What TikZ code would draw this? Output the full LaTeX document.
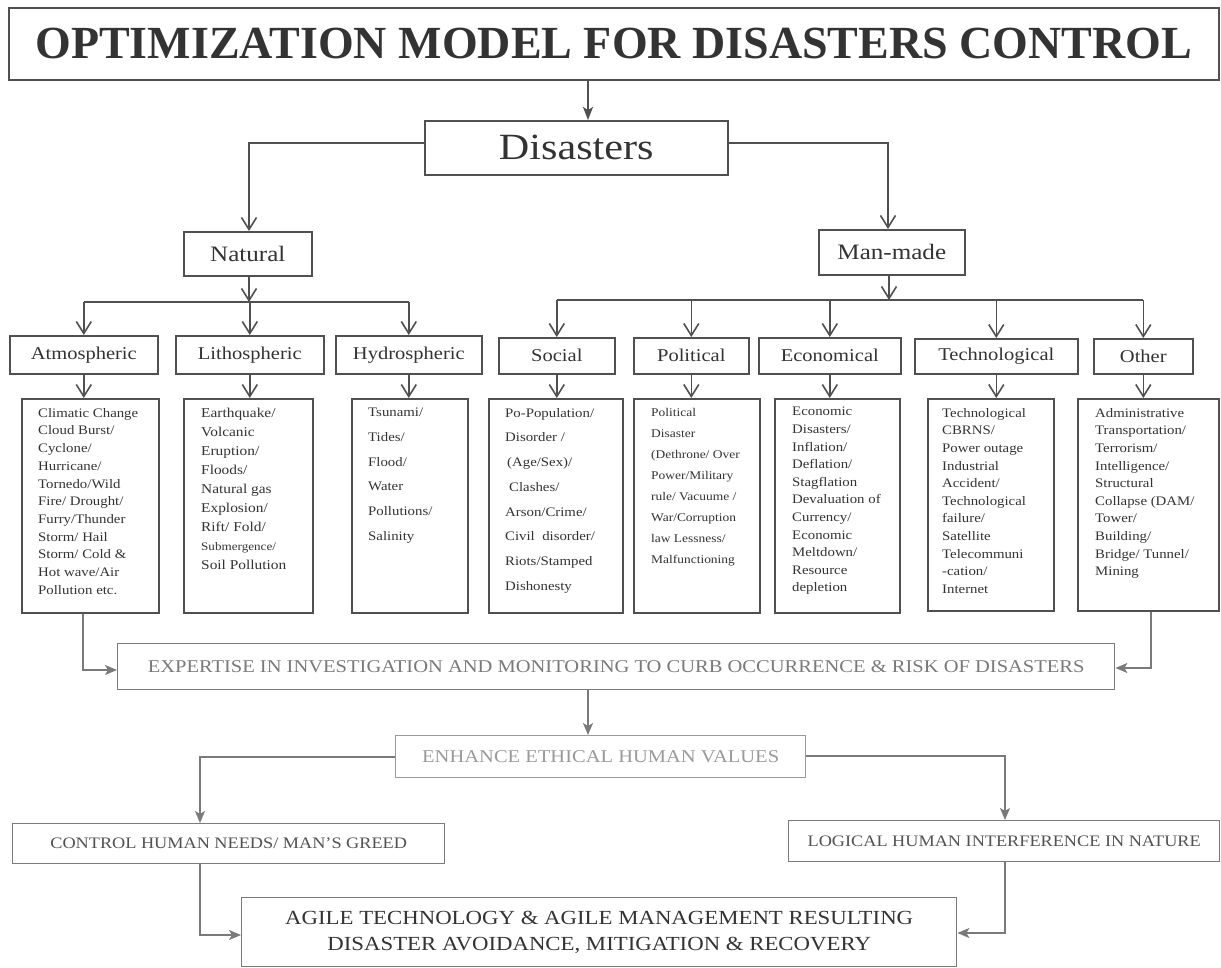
\documentclass[tikz,border=0pt]{standalone}
\usepackage{fontspec}
\setmainfont{Liberation Serif}[FakeStretch=1.14]
\newfontfamily\titlefont{Liberation Serif}
\usetikzlibrary{arrows.meta}
\definecolor{ink}{HTML}{333333}
\definecolor{linec}{HTML}{505050}
\definecolor{pale}{HTML}{7A7A7A}
\definecolor{paler}{HTML}{9A9A9A}
\tikzset{
  box/.style={draw=linec, line width=1.6pt, fill=white, inner sep=0pt, text=ink, anchor=north west},
  leafbox/.style={draw=linec, line width=1.6pt, inner sep=0pt, anchor=north west},
  leaftext/.style={inner sep=0pt, anchor=north west, align=left, text=ink},
  conn/.style={draw=linec, line width=1.6pt, -{Straight Barb[length=12pt,width=15pt]}},
  plain/.style={draw=linec, line width=1.6pt},
  sconn/.style={draw=pale, line width=1.5pt, -{Stealth[length=12pt,width=10pt,inset=3pt]}},
  splain/.style={draw=pale, line width=1.4pt},
  lvthree/.style={box, font=\fontsize{18}{20}\selectfont},
}
\begin{document}
\begin{tikzpicture}[x=1pt,y=-1pt]
\useasboundingbox (0,0) rectangle (1221,968);
\fill[white] (0,0) rectangle (1221,968);

% title
\node[box, minimum width=1210, minimum height=72, font=\titlefont\bfseries\fontsize{46}{50}\selectfont] (title) at (8,7) {OPTIMIZATION MODEL FOR DISASTERS CONTROL};
\node[box, minimum width=303, minimum height=54, font=\fontsize{37}{40}\selectfont] (dis) at (424,120) {Disasters};
\draw[draw=linec, line width=1.6pt, -{Stealth[length=13pt,width=10pt,inset=3pt]}] (title.south -| 588,0) -- (dis.north -| 588,0);

% level 2
\node[box, minimum width=128, minimum height=44, font=\fontsize{22}{24}\selectfont] (nat) at (183,231) {Natural};
\node[box, minimum width=146, minimum height=45, font=\fontsize{22}{24}\selectfont] (man) at (818,229) {Man-made};
\draw[conn] (dis.west |- 0,143) -- (249,143) -- (249,0 |- nat.north);
\draw[conn] (dis.east |- 0,143) -- (888,143) -- (888,0 |- man.north);

% level 3
\node[lvthree, minimum width=148, minimum height=38] (atm) at (9,335) {Atmospheric};
\node[lvthree, minimum width=148, minimum height=38] (lit) at (175,335) {Lithospheric};
\node[lvthree, minimum width=146, minimum height=38] (hyd) at (335,335) {Hydrospheric};
\node[lvthree, minimum width=116, minimum height=36] (soc) at (498,337) {Social};
\node[lvthree, minimum width=115, minimum height=36] (pol) at (633,337) {Political};
\node[lvthree, minimum width=142, minimum height=36] (eco) at (758,337) {Economical};
\node[lvthree, minimum width=163, minimum height=35] (tec) at (914,338) {Technological};
\node[lvthree, minimum width=99, minimum height=35] (oth) at (1093,338) {Other};

\coordinate (nbar) at (249,302);
\coordinate (mbar) at (889,300);
\draw[conn] (nat.south -| 249,0) -- (nbar);
\draw[plain] (atm.north |- nbar) -- (hyd.north |- nbar);
\foreach \n in {atm,lit,hyd} \draw[conn] (\n.north |- nbar) -- (\n.north);
\draw[conn] (man.south -| 889,0) -- (mbar);
\draw[plain] (soc.north |- mbar) -- (oth.north |- mbar);
\foreach \n in {soc,pol,eco,tec,oth} \draw[conn] (\n.north |- mbar) -- (\n.north);

% leaves
\node[leafbox, minimum width=137, minimum height=214] (latm) at (21,398) {};
\node[leafbox, minimum width=129, minimum height=214] (llit) at (183,398) {};
\node[leafbox, minimum width=116, minimum height=214] (lhyd) at (351,398) {};
\node[leafbox, minimum width=134, minimum height=214] (lsoc) at (488,398) {};
\node[leafbox, minimum width=126, minimum height=214] (lpol) at (633,398) {};
\node[leafbox, minimum width=125, minimum height=214] (leco) at (774,398) {};
\node[leafbox, minimum width=126, minimum height=212] (ltec) at (927,398) {};
\node[leafbox, minimum width=141, minimum height=212] (loth) at (1077,398) {};
\foreach \a/\b in {atm/latm,lit/llit,hyd/lhyd,soc/lsoc,pol/lpol,eco/leco,tec/ltec,oth/loth}
  \draw[conn] (\a.south) -- (\a.south |- \b.north);

\node[leaftext, font=\fontsize{13}{17.7}\selectfont] (tatm) at (38,408) {Climatic Change\\Cloud Burst/\\Cyclone/\\Hurricane/\\Tornedo/Wild\\Fire/ Drought/\\Furry/Thunder\\Storm/ Hail\\Storm/ Cold \&\\Hot wave/Air\\Pollution etc.};
\node[leaftext, font=\fontsize{13.5}{19}\selectfont] (tlit) at (201,408) {Earthquake/\\Volcanic\\Eruption/\\Floods/\\Natural gas\\Explosion/\\Rift/ Fold/\\{\fontsize{11.5}{19}\selectfont Submergence/}\\Soil Pollution};
\node[leaftext, font=\fontsize{13}{24.7}\selectfont] (thyd) at (368,408) {Tsunami/\\Tides/\\Flood/\\Water\\Pollutions/\\Salinity};
\node[leaftext, font=\fontsize{13}{24.7}\selectfont] (tsoc) at (505,408) {Po-Population/\\Disorder /\\\hspace{2pt}(Age/Sex)/\\\hspace{4pt}Clashes/\\Arson/Crime/\\Civil\ \ disorder/\\Riots/Stamped\\Dishonesty};
\node[leaftext, font=\fontsize{11.8}{21}\selectfont] (tpol) at (651,408) {Political\\Disaster\\(Dethrone/ Over\\Power/Military\\rule/ Vacuume /\\War/Corruption\\law Lessness/\\Malfunctioning};
\node[leaftext, font=\fontsize{13}{17.6}\selectfont] (teco) at (792,407) {Economic\\Disasters/\\Inflation/\\Deflation/\\Stagflation\\Devaluation of\\Currency/\\Economic\\Meltdown/\\Resource\\depletion};
\node[leaftext, font=\fontsize{13}{17.6}\selectfont] (ttec) at (942,408) {Technological\\CBRNS/\\Power outage\\Industrial\\Accident/\\Technological\\failure/\\Satellite\\Telecommuni\\-cation/\\Internet};
\node[leaftext, font=\fontsize{13}{17.6}\selectfont] (toth) at (1095,408) {Administrative\\Transportation/\\Terrorism/\\Intelligence/\\Structural\\Collapse (DAM/\\Tower/\\Building/\\Bridge/ Tunnel/\\Mining};

% lower part
\node[box, draw=pale, line width=1.4pt, minimum width=997, minimum height=46, text=pale, font=\fontsize{18}{20}\selectfont] (exp) at (117,643) {EXPERTISE IN INVESTIGATION AND MONITORING TO CURB OCCURRENCE \& RISK OF DISASTERS};
\draw[sconn] (latm.south -| 83,0) -- (83,670) -- (exp.west |- 0,670);
\draw[sconn] (loth.south -| 1151,0) -- (1151,668) -- (exp.east |- 0,668);

\node[box, draw=paler, line width=1.4pt, minimum width=410, minimum height=42, text=paler, font=\fontsize{18}{20}\selectfont] (enh) at (395,735) {ENHANCE ETHICAL HUMAN VALUES};
\draw[sconn] (exp.south -| 588,0) -- (enh.north -| 588,0);

\node[box, draw=pale, line width=1.4pt, minimum width=432, minimum height=40, text=ink!85, font=\fontsize{16}{18}\selectfont] (ctl) at (12,823) {CONTROL HUMAN NEEDS/ MAN’S GREED};
\node[box, draw=pale, line width=1.4pt, minimum width=431, minimum height=41, text=ink!85, font=\fontsize{16}{18}\selectfont] (log) at (788,820) {LOGICAL HUMAN INTERFERENCE IN NATURE};
\draw[sconn] (enh.west |- 0,757) -- (200,757) -- (200,0 |- ctl.north);
\draw[sconn] (enh.east |- 0,756) -- (1005,756) -- (1005,0 |- log.north);

\node[box, draw=pale, line width=1.4pt, minimum width=715, minimum height=69, align=center, text=ink, font=\fontsize{20}{26}\selectfont] (agi) at (241,897) {AGILE TECHNOLOGY \& AGILE MANAGEMENT RESULTING\\DISASTER AVOIDANCE, MITIGATION \& RECOVERY};
\draw[sconn] (ctl.south -| 200,0) -- (200,935) -- (agi.west |- 0,935);
\draw[sconn] (log.south -| 1005,0) -- (1005,933) -- (agi.east |- 0,933);
\end{tikzpicture}
\end{document}
